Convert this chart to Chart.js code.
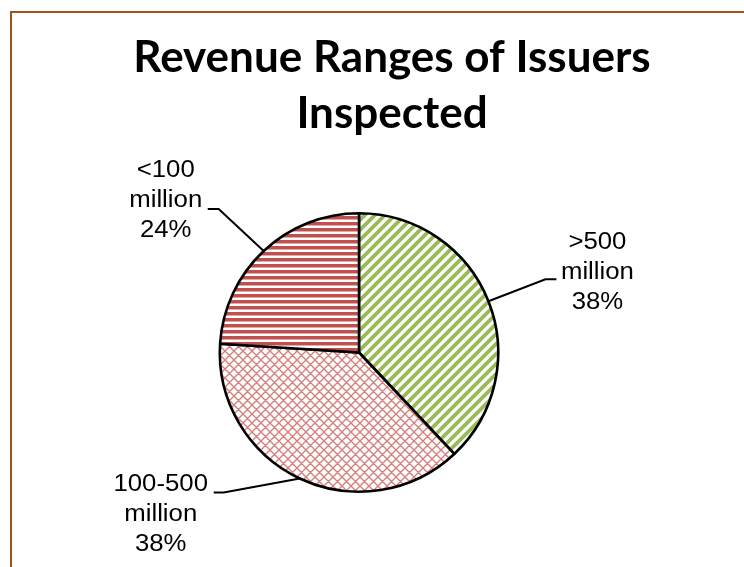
<!DOCTYPE html>
<html>
<head>
<meta charset="utf-8">
<script src="https://cdn.jsdelivr.net/npm/chart.js@4.4.0/dist/chart.umd.min.js"></script>
<style>
    html, body { margin: 0; padding: 0; background: #fff; overflow: hidden; }
    #wrap { position: relative; width: 744px; height: 567px; }
    #frame { position: absolute; left: 10px; top: 11px; width: 900px; height: 700px;
             border-left: 2px solid #A3501A; border-top: 2px solid #A3501A; }
    canvas { position: absolute; left: 0; top: 0; }
</style>
</head>
<body>
<div id="wrap">
    <div id="frame"></div>
    <canvas id="revenueChart" width="744" height="567"></canvas>
</div>
<script>
// Chart data
const titleLines = ['Revenue Ranges of Issuers', 'Inspected'];
const categories = ['>500 million', '100-500 million', '<100 million'];
const shares = [38, 38, 24];

// Label placement relative to the point on the arc (styling only)
const labelOffsets = [
    { elbow: [57, -22], end: [68, -22], text: [109, -29] },
    { elbow: [-76, 14], end: [-86, 14], text: [-139, 36] },
    { elbow: [-45, -42], end: [-56, -42], text: [-98, -50] }
];

/**
 * Build a fill pattern on a small offscreen canvas
 */
function makePattern(kind) {
    const tile = document.createElement('canvas');
    const size = kind === 'horizontal' ? 6 : (kind === 'diagonal' ? 10 : 9);
    tile.width = size;
    tile.height = size;
    const t = tile.getContext('2d');
    t.fillStyle = '#fff';
    t.fillRect(0, 0, size, size);

    if (kind === 'horizontal') {
        t.fillStyle = '#C0504D';
        t.fillRect(0, 0, size, 3);
        t.fillStyle = '#E2A9A7';
        t.fillRect(0, 3, size, 1);
    } else if (kind === 'diagonal') {
        t.strokeStyle = '#9BBB59';
        t.lineWidth = 3.8;
        t.beginPath();
        for (let k = -1; k <= 1; k++) {
            t.moveTo(-2 + k * size, size + 2);
            t.lineTo(size + 2 + k * size, -2);
        }
        t.stroke();
    } else {
        t.strokeStyle = '#D6807E';
        t.lineWidth = 1.4;
        t.beginPath();
        for (let k = -1; k <= 1; k++) {
            t.moveTo(-2 + k * size, size + 2);
            t.lineTo(size + 2 + k * size, -2);
            t.moveTo(-2 + k * size, -2);
            t.lineTo(size + 2 + k * size, size + 2);
        }
        t.stroke();
    }
    return tile.getContext('2d').createPattern(tile, 'repeat');
}

// Title and outside labels with leader lines
const labelPlugin = {
    id: 'pieLabels',
    afterDraw(chart) {
        const ctx = chart.ctx;
        ctx.save();

        // Title
        ctx.fillStyle = '#000';
        ctx.font = 'bold 44px Lato';
        ctx.textAlign = 'center';
        ctx.textBaseline = 'alphabetic';
        ctx.fillText(titleLines[0], 392, 72);
        ctx.fillText(titleLines[1], 392, 128);

        // Slice labels
        const meta = chart.getDatasetMeta(0);
        meta.data.forEach((arc, i) => {
            const p = arc.getProps(['x', 'y', 'startAngle', 'endAngle', 'outerRadius'], true);
            const mid = (p.startAngle + p.endAngle) / 2;
            const ax = p.x + Math.cos(mid) * p.outerRadius;
            const ay = p.y + Math.sin(mid) * p.outerRadius;
            const off = labelOffsets[i];

            ctx.strokeStyle = '#000';
            ctx.lineWidth = 2;
            ctx.beginPath();
            ctx.moveTo(ax, ay);
            ctx.lineTo(ax + off.elbow[0], ay + off.elbow[1]);
            ctx.lineTo(ax + off.end[0], ay + off.end[1]);
            ctx.stroke();

            const parts = categories[i].split(' ');
            const lines = [parts[0], parts[1], shares[i] + '%'];
            ctx.font = '23px "Liberation Sans"';
            ctx.textBaseline = 'middle';
            ctx.textAlign = 'center';
            lines.forEach((line, k) => {
                ctx.save();
                ctx.translate(ax + off.text[0], ay + off.text[1] + (k - 1) * 30);
                ctx.scale(1.12, 1);
                ctx.fillText(line, 0, 0);
                ctx.restore();
            });
        });
        ctx.restore();
    }
};

const chart = new Chart(document.getElementById('revenueChart'), {
    type: 'pie',
    data: {
        labels: categories,
        datasets: [{
            data: shares,
            backgroundColor: [makePattern('diagonal'), makePattern('cross'), makePattern('horizontal')],
            borderColor: '#000',
            borderWidth: 2.6
        }]
    },
    options: {
        responsive: false,
        animation: false,
        layout: { padding: { left: 218, right: 244, top: 212, bottom: 74 } },
        plugins: {
            legend: { display: false },
            tooltip: { enabled: false },
            title: { display: false }
        }
    },
    plugins: [labelPlugin]
});
</script>
</body>
</html>
